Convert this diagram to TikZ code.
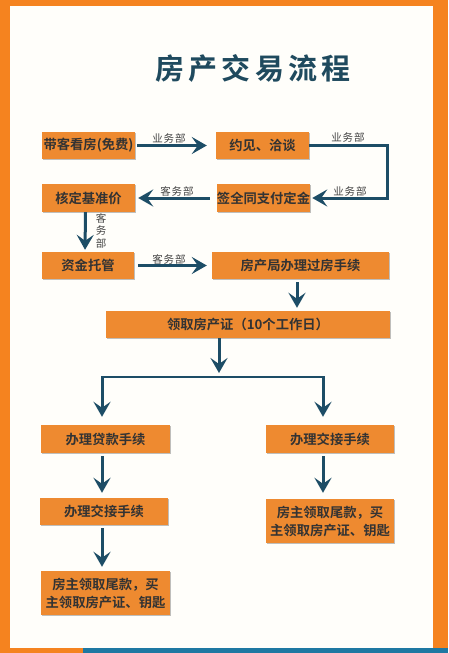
\documentclass[tikz,border=0pt]{standalone}
\usepackage{fontspec}
\newfontfamily\cjk{Noto Sans CJK SC}[BoldFont={Noto Sans CJK SC Bold}]
\newfontfamily\cjklbl{Noto Sans CJK SC}[LetterSpace=8]
\newfontfamily\cjktitle{Noto Sans CJK SC Bold}[LetterSpace=14]
\usetikzlibrary{arrows.meta,shadows}
\definecolor{frameorange}{HTML}{F5831F}
\definecolor{boxorange}{HTML}{EE8A30}
\definecolor{arrowblue}{HTML}{1D4D66}
\definecolor{titleblue}{HTML}{1F4A5E}
\definecolor{stripblue}{HTML}{1E78A2}
\definecolor{boxtext}{HTML}{333333}
\definecolor{labeltext}{HTML}{444444}
\definecolor{paper}{HTML}{FFFEFA}
\tikzset{
  stepbox/.style={fill=boxorange, text=boxtext, inner sep=0pt, align=center,
    font=\cjk\bfseries\fontsize{13.3}{18}\selectfont,
    drop shadow={shadow xshift=1pt, shadow yshift=-1pt, opacity=0.25, fill=black}},
  arr/.style={draw=arrowblue, line width=3pt,
    -{Stealth[length=15pt, width=17pt, inset=6pt]}},
  lbl/.style={text=labeltext, font=\cjklbl\fontsize{10.5}{12}\selectfont, inner sep=0pt},
}
\begin{document}
\begin{tikzpicture}[x=1pt,y=-1pt]
\useasboundingbox (0,0) rectangle (448,653);
% frame
\fill[frameorange] (0,0) rectangle (448,653);
\fill[paper] (10,6) rectangle (433,648);
\fill[stripblue] (83,648) rectangle (448,653);
% title
\node[text=titleblue, font=\cjktitle\fontsize{29}{32}\selectfont, inner sep=0pt] (title) at (253,68) {房产交易流程};
% boxes
\node[stepbox, minimum width=93pt, minimum height=27pt] (b1) at (88.5,145.5) {带客看房(免费)};
\node[stepbox, minimum width=93pt, minimum height=27pt] (b2) at (262.5,145.5) {约见、洽谈};
\node[stepbox, minimum width=93pt, minimum height=28pt] (b3) at (88.5,198) {核定基准价};
\node[stepbox, minimum width=93pt, minimum height=28pt] (b4) at (263.5,198) {签全同支付定金};
\node[stepbox, minimum width=92pt, minimum height=27pt] (b5) at (88,265.5) {资金托管};
\node[stepbox, minimum width=177pt, minimum height=27pt] (b6) at (300.5,265.5) {房产局办理过房手续};
\node[stepbox, minimum width=284pt, minimum height=27pt] (b7) at (248,324.5) {领取房产证（10个工作日）};
\node[stepbox, minimum width=129pt, minimum height=28pt] (b8) at (105.5,439) {办理贷款手续};
\node[stepbox, minimum width=128pt, minimum height=28pt] (b9) at (330,439) {办理交接手续};
\node[stepbox, minimum width=128pt, minimum height=27pt] (b10) at (104,511.5) {办理交接手续};
\node[stepbox, minimum width=128pt, minimum height=44pt] (b11) at (330,521) {房主领取尾款，买\\主领取房产证、钥匙};
\node[stepbox, minimum width=129pt, minimum height=44pt] (b12) at (105.5,593) {房主领取尾款，买\\主领取房产证、钥匙};
% connectors
\draw[arr, shorten <=2pt, shorten >=9pt] (b1.east) -- (b2.west);
\node[lbl] (l1) at (169,138) {业务部};
\draw[arr, shorten >=2pt] (b2.east) -- ++(78,0) |- (b4.east);
\node[lbl] (l2) at (348,137) {业务部};
\node[lbl] (l3) at (350,191) {业务部};
\draw[arr, shorten <=7pt, shorten >=3pt] (b4.west) -- (b3.east);
\node[lbl] (l4) at (177,191) {客务部};
\draw[arr, shorten >=2pt] ([xshift=-3pt]b3.south) -- ([xshift=-3pt]b5.north);
\node[lbl] (l5a) at (101,218) {客};
\node[lbl] (l5b) at (101,230.5) {务};
\node[lbl] (l5c) at (101,243) {部};
\draw[arr, shorten <=4pt, shorten >=5pt] (b5.east) -- (b6.west);
\node[lbl] (l6) at (169,259) {客务部};
\draw[arr, shorten <=3pt, shorten >=3pt] ([xshift=-3.5pt]b6.south) -- ([xshift=-3.5pt]b6.south |- b7.north);
\coordinate (sp) at (219,377);
\coordinate (spl) at (102,377);
\coordinate (spr) at (323,377);
\draw[arr, shorten >=4pt] (b7.south -| sp) -- (sp);
\draw[draw=arrowblue, line width=2.2pt] (spl) -- (spr);
\draw[arr, shorten >=8pt] ([yshift=1pt]spl) -- (spl |- b8.north);
\draw[arr, shorten >=8pt] ([yshift=1pt]spr) -- (spr |- b9.north);
\draw[arr, shorten <=3pt, shorten >=5pt] (b8.south -| spl) -- (spl |- b10.north);
\draw[arr, shorten <=3pt, shorten >=6pt] (b9.south -| spr) -- (spr |- b11.north);
\draw[arr, shorten <=3pt, shorten >=4pt] (b10.south -| spl) -- (spl |- b12.north);
\end{tikzpicture}
\end{document}
